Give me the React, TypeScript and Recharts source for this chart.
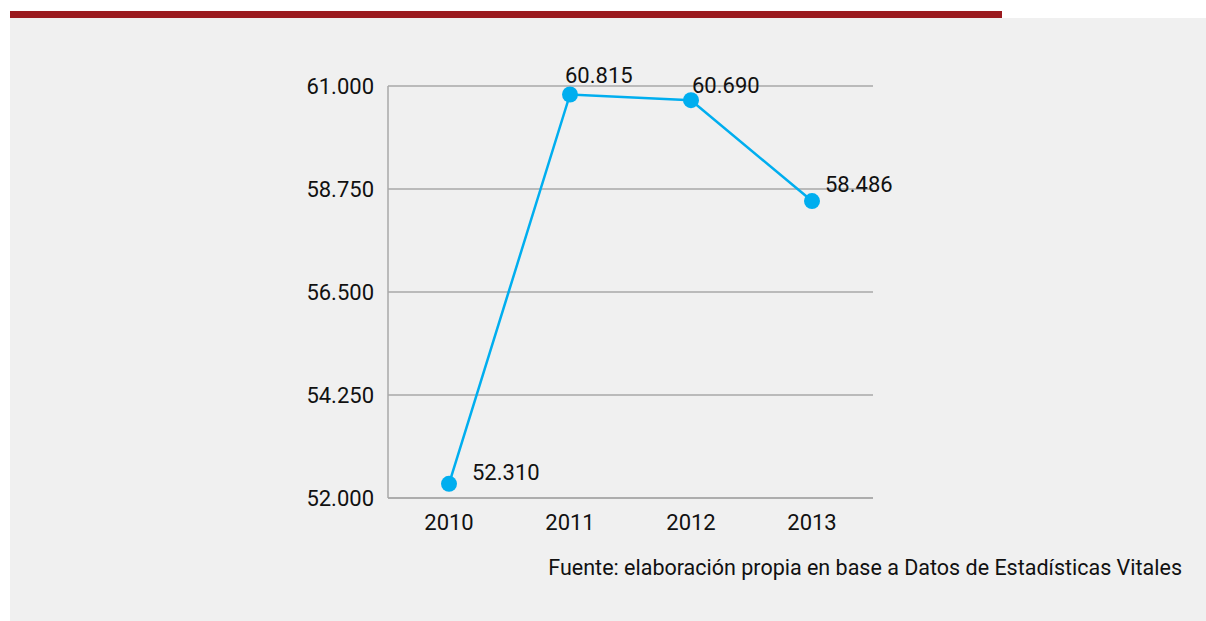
import React from "react";
import { CartesianGrid, LabelList, Line, LineChart, XAxis, YAxis } from "recharts";

const years = ["2010", "2011", "2012", "2013"];
const values = [52310, 60815, 60690, 58486];
const yTicks = [52000, 54250, 56500, 58750, 61000];

const data = years.map((year, i) => ({ year, value: values[i] }));

const FONT = "Roboto, 'Noto Sans', sans-serif";

// label offsets relative to each dot (left edge of text, vertical centre)
const labelOffsets = [
  { dx: 23, dy: -11 },
  { dx: -5, dy: -19 },
  { dx: 1, dy: -15 },
  { dx: 13, dy: -17 },
];

const fmt = (v: number) => v.toLocaleString("de-DE");

function PointLabel(props: any) {
  const { x, y, index, value } = props;
  const o = labelOffsets[index] || { dx: 10, dy: -12 };
  return (
    <text
      x={x + o.dx}
      y={y + o.dy}
      dominantBaseline="central"
      textAnchor="start"
      fontSize={22}
      fontFamily={FONT}
      fill="#111"
    >
      {fmt(value)}
    </text>
  );
}

export default function App() {
  return (
    <div style={{ position: "absolute", left: 0, top: 0, width: 1206, height: 621, background: "#fff" }}>
      <div style={{ position: "absolute", left: 10, top: 11, width: 992, height: 8, background: "#9b1a1f" }} />
      <div style={{ position: "absolute", left: 10, top: 18, width: 1196, height: 603, background: "#f0f0f0" }} />
      <div style={{ position: "absolute", left: 0, top: 0 }}>
        <LineChart
          width={1206}
          height={621}
          data={data}
          margin={{ top: 86, right: 333, bottom: 93, left: 308 }}
        >
          <CartesianGrid horizontal vertical={false} stroke="#a8a8a8" strokeWidth={1.3} />
          <XAxis
            dataKey="year"
            height={30}
            padding={{ left: 61, right: 61 }}
            axisLine={{ stroke: "#a8a8a8", strokeWidth: 1.5 }}
            tickLine={false}
            tickSize={6}
            tickMargin={10}
            tick={{ fontSize: 22, fontFamily: FONT, fill: "#111" }}
          />
          <YAxis
            width={80}
            domain={[52000, 61000]}
            ticks={yTicks}
            tickFormatter={fmt}
            axisLine={{ stroke: "#a8a8a8", strokeWidth: 1.5 }}
            tickLine={false}
            tickSize={6}
            tickMargin={8}
            tick={{ fontSize: 22, fontFamily: FONT, fill: "#111" }}
          />
          <Line
            dataKey="value"
            stroke="#00aeef"
            strokeWidth={2.5}
            dot={{ r: 8, fill: "#00aeef", stroke: "none" }}
            activeDot={false}
            isAnimationActive={false}
          >
            <LabelList dataKey="value" content={<PointLabel />} />
          </Line>
        </LineChart>
      </div>
      <div
        style={{
          position: "absolute",
          right: 24,
          top: 555,
          fontFamily: FONT,
          fontSize: 21.5,
          color: "#111",
          whiteSpace: "nowrap",
        }}
      >
        Fuente: elaboración propia en base a Datos de Estadísticas Vitales
      </div>
    </div>
  );
}
